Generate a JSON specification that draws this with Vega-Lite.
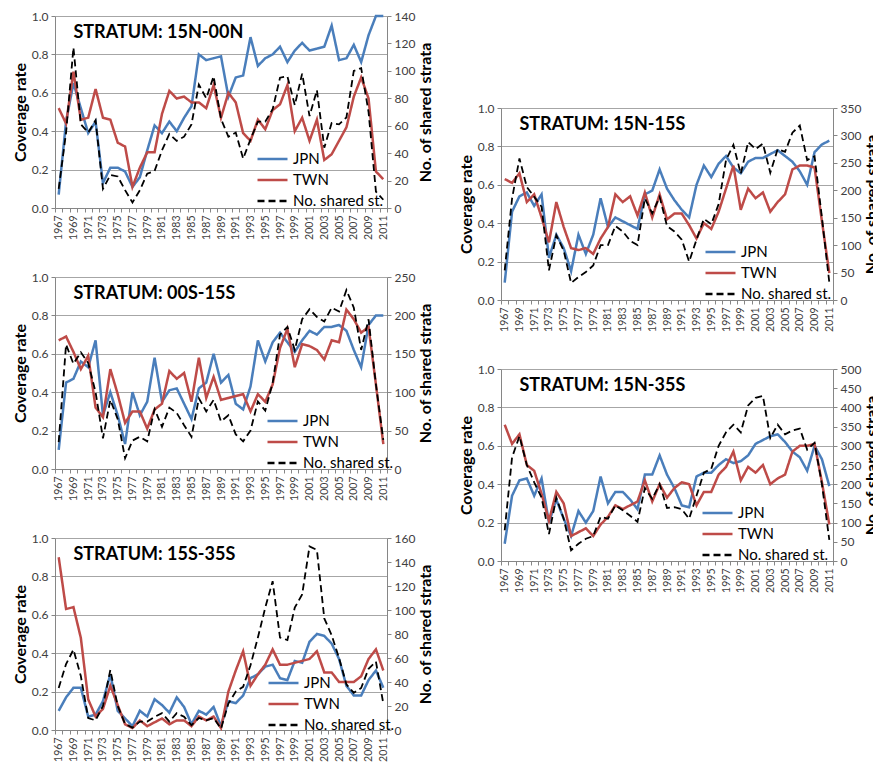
{
  "$schema": "https://vega.github.io/schema/vega-lite/v6.json",
  "background": "white",
  "padding": {"left": 12, "top": 10, "right": 0, "bottom": 0},
  "datasets": {
    "p1": [
      {"yr":1967,"JPN":0.07,"TWN":0.52,"NS":14},{"yr":1968,"JPN":0.45,"TWN":0.44,"NS":55},{"yr":1969,"JPN":0.65,"TWN":0.71,"NS":117},
      {"yr":1970,"JPN":0.52,"TWN":0.46,"NS":61},{"yr":1971,"JPN":0.39,"TWN":0.47,"NS":55},{"yr":1972,"JPN":0.45,"TWN":0.62,"NS":64},
      {"yr":1973,"JPN":0.13,"TWN":0.47,"NS":14},{"yr":1974,"JPN":0.21,"TWN":0.46,"NS":24},{"yr":1975,"JPN":0.21,"TWN":0.34,"NS":23},
      {"yr":1976,"JPN":0.19,"TWN":0.32,"NS":13},{"yr":1977,"JPN":0.11,"TWN":0.11,"NS":4},{"yr":1978,"JPN":0.16,"TWN":0.21,"NS":13},
      {"yr":1979,"JPN":0.30,"TWN":0.29,"NS":25},{"yr":1980,"JPN":0.43,"TWN":0.29,"NS":27},{"yr":1981,"JPN":0.39,"TWN":0.49,"NS":42},
      {"yr":1982,"JPN":0.45,"TWN":0.61,"NS":54},{"yr":1983,"JPN":0.40,"TWN":0.57,"NS":49},{"yr":1984,"JPN":0.47,"TWN":0.58,"NS":52},
      {"yr":1985,"JPN":0.53,"TWN":0.55,"NS":61},{"yr":1986,"JPN":0.80,"TWN":0.55,"NS":90},{"yr":1987,"JPN":0.77,"TWN":0.52,"NS":80},
      {"yr":1988,"JPN":0.78,"TWN":0.64,"NS":96},{"yr":1989,"JPN":0.79,"TWN":0.47,"NS":65},{"yr":1990,"JPN":0.58,"TWN":0.60,"NS":52},
      {"yr":1991,"JPN":0.68,"TWN":0.55,"NS":55},{"yr":1992,"JPN":0.69,"TWN":0.39,"NS":36},{"yr":1993,"JPN":0.89,"TWN":0.35,"NS":50},
      {"yr":1994,"JPN":0.74,"TWN":0.46,"NS":63},{"yr":1995,"JPN":0.78,"TWN":0.41,"NS":63},{"yr":1996,"JPN":0.80,"TWN":0.51,"NS":72},
      {"yr":1997,"JPN":0.84,"TWN":0.54,"NS":95},{"yr":1998,"JPN":0.76,"TWN":0.64,"NS":96},{"yr":1999,"JPN":0.82,"TWN":0.40,"NS":75},
      {"yr":2000,"JPN":0.86,"TWN":0.47,"NS":98},{"yr":2001,"JPN":0.82,"TWN":0.35,"NS":67},{"yr":2002,"JPN":0.83,"TWN":0.46,"NS":86},
      {"yr":2003,"JPN":0.84,"TWN":0.25,"NS":44},{"yr":2004,"JPN":0.95,"TWN":0.28,"NS":62},{"yr":2005,"JPN":0.77,"TWN":0.35,"NS":61},
      {"yr":2006,"JPN":0.78,"TWN":0.42,"NS":66},{"yr":2007,"JPN":0.85,"TWN":0.58,"NS":100},{"yr":2008,"JPN":0.76,"TWN":0.68,"NS":102},
      {"yr":2009,"JPN":0.90,"TWN":0.57,"NS":70},{"yr":2010,"JPN":1.00,"TWN":0.19,"NS":12},{"yr":2011,"JPN":1.00,"TWN":0.15,"NS":6}
    ],
    "p2": [
      {"yr":1967,"JPN":0.10,"TWN":0.67,"NS":35},{"yr":1968,"JPN":0.45,"TWN":0.69,"NS":162},{"yr":1969,"JPN":0.47,"TWN":0.61,"NS":137},
      {"yr":1970,"JPN":0.56,"TWN":0.52,"NS":152},{"yr":1971,"JPN":0.53,"TWN":0.59,"NS":138},{"yr":1972,"JPN":0.67,"TWN":0.32,"NS":100},
      {"yr":1973,"JPN":0.28,"TWN":0.27,"NS":40},{"yr":1974,"JPN":0.40,"TWN":0.52,"NS":90},{"yr":1975,"JPN":0.28,"TWN":0.39,"NS":65},
      {"yr":1976,"JPN":0.13,"TWN":0.24,"NS":14},{"yr":1977,"JPN":0.40,"TWN":0.30,"NS":37},{"yr":1978,"JPN":0.28,"TWN":0.30,"NS":42},
      {"yr":1979,"JPN":0.35,"TWN":0.21,"NS":36},{"yr":1980,"JPN":0.58,"TWN":0.31,"NS":78},{"yr":1981,"JPN":0.35,"TWN":0.34,"NS":55},
      {"yr":1982,"JPN":0.41,"TWN":0.51,"NS":80},{"yr":1983,"JPN":0.42,"TWN":0.47,"NS":73},{"yr":1984,"JPN":0.34,"TWN":0.50,"NS":57},
      {"yr":1985,"JPN":0.26,"TWN":0.35,"NS":42},{"yr":1986,"JPN":0.42,"TWN":0.58,"NS":92},{"yr":1987,"JPN":0.45,"TWN":0.37,"NS":75},
      {"yr":1988,"JPN":0.60,"TWN":0.48,"NS":90},{"yr":1989,"JPN":0.45,"TWN":0.36,"NS":62},{"yr":1990,"JPN":0.49,"TWN":0.37,"NS":70},
      {"yr":1991,"JPN":0.34,"TWN":0.38,"NS":45},{"yr":1992,"JPN":0.31,"TWN":0.39,"NS":36},{"yr":1993,"JPN":0.43,"TWN":0.30,"NS":50},
      {"yr":1994,"JPN":0.67,"TWN":0.39,"NS":88},{"yr":1995,"JPN":0.56,"TWN":0.35,"NS":76},{"yr":1996,"JPN":0.66,"TWN":0.44,"NS":112},
      {"yr":1997,"JPN":0.71,"TWN":0.63,"NS":175},{"yr":1998,"JPN":0.66,"TWN":0.73,"NS":185},{"yr":1999,"JPN":0.61,"TWN":0.53,"NS":155},
      {"yr":2000,"JPN":0.67,"TWN":0.65,"NS":195},{"yr":2001,"JPN":0.72,"TWN":0.64,"NS":208},{"yr":2002,"JPN":0.70,"TWN":0.62,"NS":198},
      {"yr":2003,"JPN":0.74,"TWN":0.57,"NS":192},{"yr":2004,"JPN":0.74,"TWN":0.67,"NS":210},{"yr":2005,"JPN":0.75,"TWN":0.66,"NS":205},
      {"yr":2006,"JPN":0.72,"TWN":0.83,"NS":233},{"yr":2007,"JPN":0.62,"TWN":0.78,"NS":210},{"yr":2008,"JPN":0.53,"TWN":0.71,"NS":155},
      {"yr":2009,"JPN":0.75,"TWN":0.74,"NS":195},{"yr":2010,"JPN":0.80,"TWN":0.44,"NS":110},{"yr":2011,"JPN":0.80,"TWN":0.13,"NS":38}
    ],
    "p3": [
      {"yr":1967,"JPN":0.10,"TWN":0.90,"NS":35},{"yr":1968,"JPN":0.17,"TWN":0.63,"NS":55},{"yr":1969,"JPN":0.22,"TWN":0.64,"NS":67},
      {"yr":1970,"JPN":0.22,"TWN":0.48,"NS":45},{"yr":1971,"JPN":0.07,"TWN":0.16,"NS":10},{"yr":1972,"JPN":0.08,"TWN":0.07,"NS":8},
      {"yr":1973,"JPN":0.15,"TWN":0.11,"NS":20},{"yr":1974,"JPN":0.29,"TWN":0.23,"NS":50},{"yr":1975,"JPN":0.10,"TWN":0.13,"NS":20},
      {"yr":1976,"JPN":0.06,"TWN":0.03,"NS":5},{"yr":1977,"JPN":0.02,"TWN":0.01,"NS":2},{"yr":1978,"JPN":0.10,"TWN":0.05,"NS":7},
      {"yr":1979,"JPN":0.07,"TWN":0.02,"NS":7},{"yr":1980,"JPN":0.16,"TWN":0.04,"NS":11},{"yr":1981,"JPN":0.13,"TWN":0.06,"NS":14},
      {"yr":1982,"JPN":0.09,"TWN":0.03,"NS":7},{"yr":1983,"JPN":0.17,"TWN":0.05,"NS":14},{"yr":1984,"JPN":0.12,"TWN":0.05,"NS":11},
      {"yr":1985,"JPN":0.03,"TWN":0.02,"NS":4},{"yr":1986,"JPN":0.10,"TWN":0.07,"NS":10},{"yr":1987,"JPN":0.08,"TWN":0.05,"NS":8},
      {"yr":1988,"JPN":0.12,"TWN":0.07,"NS":10},{"yr":1989,"JPN":0.02,"TWN":0.01,"NS":1},{"yr":1990,"JPN":0.15,"TWN":0.20,"NS":22},
      {"yr":1991,"JPN":0.14,"TWN":0.31,"NS":32},{"yr":1992,"JPN":0.18,"TWN":0.41,"NS":36},{"yr":1993,"JPN":0.27,"TWN":0.23,"NS":54},
      {"yr":1994,"JPN":0.29,"TWN":0.29,"NS":77},{"yr":1995,"JPN":0.33,"TWN":0.34,"NS":102},{"yr":1996,"JPN":0.34,"TWN":0.42,"NS":124},
      {"yr":1997,"JPN":0.27,"TWN":0.34,"NS":77},{"yr":1998,"JPN":0.26,"TWN":0.34,"NS":75},{"yr":1999,"JPN":0.36,"TWN":0.35,"NS":102},
      {"yr":2000,"JPN":0.35,"TWN":0.36,"NS":113},{"yr":2001,"JPN":0.46,"TWN":0.37,"NS":153},{"yr":2002,"JPN":0.50,"TWN":0.41,"NS":150},
      {"yr":2003,"JPN":0.49,"TWN":0.30,"NS":93},{"yr":2004,"JPN":0.45,"TWN":0.30,"NS":79},{"yr":2005,"JPN":0.37,"TWN":0.25,"NS":60},
      {"yr":2006,"JPN":0.23,"TWN":0.25,"NS":38},{"yr":2007,"JPN":0.18,"TWN":0.25,"NS":31},{"yr":2008,"JPN":0.18,"TWN":0.28,"NS":35},
      {"yr":2009,"JPN":0.26,"TWN":0.37,"NS":51},{"yr":2010,"JPN":0.31,"TWN":0.42,"NS":57},{"yr":2011,"JPN":0.22,"TWN":0.31,"NS":22}
    ],
    "p4": [
      {"yr":1967,"JPN":0.09,"TWN":0.63,"NS":54},{"yr":1968,"JPN":0.46,"TWN":0.61,"NS":185},{"yr":1969,"JPN":0.54,"TWN":0.66,"NS":258},
      {"yr":1970,"JPN":0.56,"TWN":0.51,"NS":206},{"yr":1971,"JPN":0.49,"TWN":0.55,"NS":188},{"yr":1972,"JPN":0.55,"TWN":0.43,"NS":170},
      {"yr":1973,"JPN":0.22,"TWN":0.30,"NS":54},{"yr":1974,"JPN":0.34,"TWN":0.51,"NS":118},{"yr":1975,"JPN":0.27,"TWN":0.38,"NS":90},
      {"yr":1976,"JPN":0.15,"TWN":0.27,"NS":31},{"yr":1977,"JPN":0.34,"TWN":0.26,"NS":42},{"yr":1978,"JPN":0.24,"TWN":0.27,"NS":51},
      {"yr":1979,"JPN":0.34,"TWN":0.24,"NS":63},{"yr":1980,"JPN":0.53,"TWN":0.32,"NS":100},{"yr":1981,"JPN":0.38,"TWN":0.38,"NS":100},
      {"yr":1982,"JPN":0.43,"TWN":0.55,"NS":135},{"yr":1983,"JPN":0.41,"TWN":0.51,"NS":125},{"yr":1984,"JPN":0.39,"TWN":0.54,"NS":108},
      {"yr":1985,"JPN":0.37,"TWN":0.44,"NS":100},{"yr":1986,"JPN":0.55,"TWN":0.56,"NS":185},{"yr":1987,"JPN":0.57,"TWN":0.43,"NS":158},
      {"yr":1988,"JPN":0.68,"TWN":0.55,"NS":188},{"yr":1989,"JPN":0.58,"TWN":0.42,"NS":135},{"yr":1990,"JPN":0.52,"TWN":0.45,"NS":125},
      {"yr":1991,"JPN":0.47,"TWN":0.45,"NS":110},{"yr":1992,"JPN":0.43,"TWN":0.39,"NS":70},{"yr":1993,"JPN":0.60,"TWN":0.32,"NS":110},
      {"yr":1994,"JPN":0.70,"TWN":0.40,"NS":148},{"yr":1995,"JPN":0.64,"TWN":0.37,"NS":138},{"yr":1996,"JPN":0.71,"TWN":0.46,"NS":175},
      {"yr":1997,"JPN":0.75,"TWN":0.58,"NS":255},{"yr":1998,"JPN":0.69,"TWN":0.70,"NS":283},{"yr":1999,"JPN":0.66,"TWN":0.47,"NS":230},
      {"yr":2000,"JPN":0.72,"TWN":0.58,"NS":288},{"yr":2001,"JPN":0.74,"TWN":0.53,"NS":275},{"yr":2002,"JPN":0.74,"TWN":0.56,"NS":285},
      {"yr":2003,"JPN":0.76,"TWN":0.46,"NS":232},{"yr":2004,"JPN":0.78,"TWN":0.51,"NS":275},{"yr":2005,"JPN":0.75,"TWN":0.55,"NS":270},
      {"yr":2006,"JPN":0.72,"TWN":0.68,"NS":305},{"yr":2007,"JPN":0.67,"TWN":0.70,"NS":318},{"yr":2008,"JPN":0.60,"TWN":0.70,"NS":255},
      {"yr":2009,"JPN":0.77,"TWN":0.69,"NS":262},{"yr":2010,"JPN":0.81,"TWN":0.41,"NS":150},{"yr":2011,"JPN":0.83,"TWN":0.14,"NS":32}
    ],
    "p5": [
      {"yr":1967,"JPN":0.09,"TWN":0.71,"NS":80},{"yr":1968,"JPN":0.34,"TWN":0.61,"NS":270},{"yr":1969,"JPN":0.42,"TWN":0.66,"NS":325},
      {"yr":1970,"JPN":0.43,"TWN":0.50,"NS":250},{"yr":1971,"JPN":0.34,"TWN":0.47,"NS":205},{"yr":1972,"JPN":0.43,"TWN":0.35,"NS":165},
      {"yr":1973,"JPN":0.20,"TWN":0.21,"NS":70},{"yr":1974,"JPN":0.32,"TWN":0.36,"NS":165},{"yr":1975,"JPN":0.22,"TWN":0.30,"NS":110},
      {"yr":1976,"JPN":0.13,"TWN":0.13,"NS":28},{"yr":1977,"JPN":0.26,"TWN":0.15,"NS":45},{"yr":1978,"JPN":0.20,"TWN":0.17,"NS":58},
      {"yr":1979,"JPN":0.26,"TWN":0.13,"NS":65},{"yr":1980,"JPN":0.44,"TWN":0.19,"NS":115},{"yr":1981,"JPN":0.30,"TWN":0.23,"NS":110},
      {"yr":1982,"JPN":0.36,"TWN":0.29,"NS":145},{"yr":1983,"JPN":0.36,"TWN":0.27,"NS":132},{"yr":1984,"JPN":0.32,"TWN":0.29,"NS":118},
      {"yr":1985,"JPN":0.27,"TWN":0.31,"NS":102},{"yr":1986,"JPN":0.45,"TWN":0.42,"NS":190},{"yr":1987,"JPN":0.45,"TWN":0.31,"NS":162},
      {"yr":1988,"JPN":0.55,"TWN":0.40,"NS":200},{"yr":1989,"JPN":0.45,"TWN":0.33,"NS":138},{"yr":1990,"JPN":0.38,"TWN":0.38,"NS":140},
      {"yr":1991,"JPN":0.29,"TWN":0.41,"NS":135},{"yr":1992,"JPN":0.28,"TWN":0.40,"NS":110},{"yr":1993,"JPN":0.44,"TWN":0.29,"NS":170},
      {"yr":1994,"JPN":0.46,"TWN":0.36,"NS":230},{"yr":1995,"JPN":0.46,"TWN":0.36,"NS":240},{"yr":1996,"JPN":0.50,"TWN":0.45,"NS":300},
      {"yr":1997,"JPN":0.53,"TWN":0.49,"NS":335},{"yr":1998,"JPN":0.51,"TWN":0.57,"NS":355},{"yr":1999,"JPN":0.52,"TWN":0.42,"NS":335},
      {"yr":2000,"JPN":0.55,"TWN":0.49,"NS":405},{"yr":2001,"JPN":0.61,"TWN":0.46,"NS":425},{"yr":2002,"JPN":0.63,"TWN":0.50,"NS":430},
      {"yr":2003,"JPN":0.65,"TWN":0.40,"NS":320},{"yr":2004,"JPN":0.66,"TWN":0.43,"NS":355},{"yr":2005,"JPN":0.62,"TWN":0.45,"NS":330},
      {"yr":2006,"JPN":0.57,"TWN":0.57,"NS":340},{"yr":2007,"JPN":0.54,"TWN":0.60,"NS":345},{"yr":2008,"JPN":0.47,"TWN":0.60,"NS":290},
      {"yr":2009,"JPN":0.60,"TWN":0.61,"NS":308},{"yr":2010,"JPN":0.53,"TWN":0.41,"NS":200},{"yr":2011,"JPN":0.39,"TWN":0.19,"NS":55}
    ]
  },
  "hconcat": [
    {
      "vconcat": [
        {
          "width": 332, "height": 192,
          "data": {"name": "p1"},
          "layer": [
            {
              "transform": [{"fold": ["JPN", "TWN"], "as": ["s", "v"]}],
              "mark": {"type": "line", "strokeWidth": 2.5},
              "encoding": {
                "x": {"field": "yr", "type": "ordinal", "scale": {"type": "band", "paddingInner": 0, "paddingOuter": 0},
                      "axis": {"title": null, "labelAngle": 270, "labelExpr": "datum.value % 2 == 1 ? datum.label : ''", "labelOverlap": false, "tickBand": "extent", "grid": false, "labelFontSize": 10.5}},
                "y": {"field": "v", "type": "quantitative", "scale": {"domain": [0, 1], "nice": false},
                      "axis": {"title": "Coverage rate", "values": [0, 0.2, 0.4, 0.6, 0.8, 1], "format": ".1f", "grid": true}},
                "color": {"field": "s", "type": "nominal", "scale": {"domain": ["JPN", "TWN", "NS"], "range": ["#4a7ebb", "#be4b48", "#000000"]},
                          "legend": {"title": null, "orient": "none", "legendX": 201, "legendY": 133, "labelExpr": "datum.value == 'NS' ? 'No. shared st.' : datum.label"}},
                "strokeDash": {"field": "s", "type": "nominal", "scale": {"domain": ["JPN", "TWN", "NS"], "range": [[1, 0], [1, 0], [7, 4]]},
                               "legend": {"title": null, "orient": "none", "legendX": 201, "legendY": 133, "labelExpr": "datum.value == 'NS' ? 'No. shared st.' : datum.label"}}
              }
            },
            {
              "transform": [{"fold": ["NS"], "as": ["s", "v"]}],
              "mark": {"type": "line", "strokeWidth": 1.8},
              "encoding": {
                "x": {"field": "yr", "type": "ordinal"},
                "y": {"field": "v", "type": "quantitative", "scale": {"domain": [0, 140], "nice": false},
                      "axis": {"title": "No. of shared strata", "orient": "right", "values": [0, 20, 40, 60, 80, 100, 120, 140], "grid": false, "titleAngle": 270, "titleBaseline": "top"}},
                "color": {"field": "s", "type": "nominal"},
                "strokeDash": {"field": "s", "type": "nominal"}
              }
            },
            {
              "data": {"values": [{}]},
              "mark": {"type": "text", "align": "left", "baseline": "middle", "fontSize": 18, "fontWeight": "bold", "font": "Lato", "color": "#000000"},
              "encoding": {
                "x": {"datum": 1969, "type": "ordinal"},
                "y": {"datum": 0.91, "type": "quantitative", "scale": {"domain": [0, 1], "nice": false}, "axis": null},
                "text": {"value": "STRATUM: 15N-00N"}
              }
            }
          ],
          "resolve": {"scale": {"y": "independent"}}
        },
        {
          "width": 332, "height": 192,
          "data": {"name": "p2"},
          "layer": [
            {
              "transform": [{"fold": ["JPN", "TWN"], "as": ["s", "v"]}],
              "mark": {"type": "line", "strokeWidth": 2.5},
              "encoding": {
                "x": {"field": "yr", "type": "ordinal", "scale": {"type": "band", "paddingInner": 0, "paddingOuter": 0},
                      "axis": {"title": null, "labelAngle": 270, "labelExpr": "datum.value % 2 == 1 ? datum.label : ''", "labelOverlap": false, "tickBand": "extent", "grid": false, "labelFontSize": 10.5}},
                "y": {"field": "v", "type": "quantitative", "scale": {"domain": [0, 1], "nice": false},
                      "axis": {"title": "Coverage rate", "values": [0, 0.2, 0.4, 0.6, 0.8, 1], "format": ".1f", "grid": true}},
                "color": {"field": "s", "type": "nominal", "scale": {"domain": ["JPN", "TWN", "NS"], "range": ["#4a7ebb", "#be4b48", "#000000"]},
                          "legend": {"title": null, "orient": "none", "legendX": 211, "legendY": 134, "labelExpr": "datum.value == 'NS' ? 'No. shared st.' : datum.label"}},
                "strokeDash": {"field": "s", "type": "nominal", "scale": {"domain": ["JPN", "TWN", "NS"], "range": [[1, 0], [1, 0], [7, 4]]},
                               "legend": {"title": null, "orient": "none", "legendX": 211, "legendY": 134, "labelExpr": "datum.value == 'NS' ? 'No. shared st.' : datum.label"}}
              }
            },
            {
              "transform": [{"fold": ["NS"], "as": ["s", "v"]}],
              "mark": {"type": "line", "strokeWidth": 1.8},
              "encoding": {
                "x": {"field": "yr", "type": "ordinal"},
                "y": {"field": "v", "type": "quantitative", "scale": {"domain": [0, 250], "nice": false},
                      "axis": {"title": "No. of shared strata", "orient": "right", "values": [0, 50, 100, 150, 200, 250], "grid": false, "titleAngle": 270, "titleBaseline": "top"}},
                "color": {"field": "s", "type": "nominal"},
                "strokeDash": {"field": "s", "type": "nominal"}
              }
            },
            {
              "data": {"values": [{}]},
              "mark": {"type": "text", "align": "left", "baseline": "middle", "fontSize": 18, "fontWeight": "bold", "font": "Lato", "color": "#000000"},
              "encoding": {
                "x": {"datum": 1969, "type": "ordinal"},
                "y": {"datum": 0.91, "type": "quantitative", "scale": {"domain": [0, 1], "nice": false}, "axis": null},
                "text": {"value": "STRATUM: 00S-15S"}
              }
            }
          ],
          "resolve": {"scale": {"y": "independent"}}
        },
        {
          "width": 332, "height": 192,
          "data": {"name": "p3"},
          "layer": [
            {
              "transform": [{"fold": ["JPN", "TWN"], "as": ["s", "v"]}],
              "mark": {"type": "line", "strokeWidth": 2.5},
              "encoding": {
                "x": {"field": "yr", "type": "ordinal", "scale": {"type": "band", "paddingInner": 0, "paddingOuter": 0},
                      "axis": {"title": null, "labelAngle": 270, "labelExpr": "datum.value % 2 == 1 ? datum.label : ''", "labelOverlap": false, "tickBand": "extent", "grid": false, "labelFontSize": 10.5}},
                "y": {"field": "v", "type": "quantitative", "scale": {"domain": [0, 1], "nice": false},
                      "axis": {"title": "Coverage rate", "values": [0, 0.2, 0.4, 0.6, 0.8, 1], "format": ".1f", "grid": true}},
                "color": {"field": "s", "type": "nominal", "scale": {"domain": ["JPN", "TWN", "NS"], "range": ["#4a7ebb", "#be4b48", "#000000"]},
                          "legend": {"title": null, "orient": "none", "legendX": 212, "legendY": 135, "labelExpr": "datum.value == 'NS' ? 'No. shared st.' : datum.label"}},
                "strokeDash": {"field": "s", "type": "nominal", "scale": {"domain": ["JPN", "TWN", "NS"], "range": [[1, 0], [1, 0], [7, 4]]},
                               "legend": {"title": null, "orient": "none", "legendX": 212, "legendY": 135, "labelExpr": "datum.value == 'NS' ? 'No. shared st.' : datum.label"}}
              }
            },
            {
              "transform": [{"fold": ["NS"], "as": ["s", "v"]}],
              "mark": {"type": "line", "strokeWidth": 1.8},
              "encoding": {
                "x": {"field": "yr", "type": "ordinal"},
                "y": {"field": "v", "type": "quantitative", "scale": {"domain": [0, 160], "nice": false},
                      "axis": {"title": "No. of shared strata", "orient": "right", "values": [0, 20, 40, 60, 80, 100, 120, 140, 160], "grid": false, "titleAngle": 270, "titleBaseline": "top"}},
                "color": {"field": "s", "type": "nominal"},
                "strokeDash": {"field": "s", "type": "nominal"}
              }
            },
            {
              "data": {"values": [{}]},
              "mark": {"type": "text", "align": "left", "baseline": "middle", "fontSize": 18, "fontWeight": "bold", "font": "Lato", "color": "#000000"},
              "encoding": {
                "x": {"datum": 1969, "type": "ordinal"},
                "y": {"datum": 0.91, "type": "quantitative", "scale": {"domain": [0, 1], "nice": false}, "axis": null},
                "text": {"value": "STRATUM: 15S-35S"}
              }
            }
          ],
          "resolve": {"scale": {"y": "independent"}}
        }
      ],
      "resolve": {"scale": {"color": "independent", "strokeDash": "independent"}, "legend": {"color": "independent", "strokeDash": "independent"}}
    },
    {
      "vconcat": [
        {
          "width": 332, "height": 55,
          "data": {"values": []},
          "mark": "text"
        },
        {
          "width": 332, "height": 192,
          "data": {"name": "p4"},
          "layer": [
            {
              "transform": [{"fold": ["JPN", "TWN"], "as": ["s", "v"]}],
              "mark": {"type": "line", "strokeWidth": 2.5},
              "encoding": {
                "x": {"field": "yr", "type": "ordinal", "scale": {"type": "band", "paddingInner": 0, "paddingOuter": 0},
                      "axis": {"title": null, "labelAngle": 270, "labelExpr": "datum.value % 2 == 1 ? datum.label : ''", "labelOverlap": false, "tickBand": "extent", "grid": false, "labelFontSize": 10.5}},
                "y": {"field": "v", "type": "quantitative", "scale": {"domain": [0, 1], "nice": false},
                      "axis": {"title": "Coverage rate", "values": [0, 0.2, 0.4, 0.6, 0.8, 1], "format": ".1f", "grid": true}},
                "color": {"field": "s", "type": "nominal", "scale": {"domain": ["JPN", "TWN", "NS"], "range": ["#4a7ebb", "#be4b48", "#000000"]},
                          "legend": {"title": null, "orient": "none", "legendX": 203, "legendY": 134, "labelExpr": "datum.value == 'NS' ? 'No. shared st.' : datum.label"}},
                "strokeDash": {"field": "s", "type": "nominal", "scale": {"domain": ["JPN", "TWN", "NS"], "range": [[1, 0], [1, 0], [7, 4]]},
                               "legend": {"title": null, "orient": "none", "legendX": 203, "legendY": 134, "labelExpr": "datum.value == 'NS' ? 'No. shared st.' : datum.label"}}
              }
            },
            {
              "transform": [{"fold": ["NS"], "as": ["s", "v"]}],
              "mark": {"type": "line", "strokeWidth": 1.8},
              "encoding": {
                "x": {"field": "yr", "type": "ordinal"},
                "y": {"field": "v", "type": "quantitative", "scale": {"domain": [0, 350], "nice": false},
                      "axis": {"title": "No. of shared strata", "orient": "right", "values": [0, 50, 100, 150, 200, 250, 300, 350], "grid": false, "titleAngle": 270, "titleBaseline": "top"}},
                "color": {"field": "s", "type": "nominal"},
                "strokeDash": {"field": "s", "type": "nominal"}
              }
            },
            {
              "data": {"values": [{}]},
              "mark": {"type": "text", "align": "left", "baseline": "middle", "fontSize": 18, "fontWeight": "bold", "font": "Lato", "color": "#000000"},
              "encoding": {
                "x": {"datum": 1969, "type": "ordinal"},
                "y": {"datum": 0.91, "type": "quantitative", "scale": {"domain": [0, 1], "nice": false}, "axis": null},
                "text": {"value": "STRATUM: 15N-15S"}
              }
            }
          ],
          "resolve": {"scale": {"y": "independent"}}
        },
        {
          "width": 332, "height": 192,
          "data": {"name": "p5"},
          "layer": [
            {
              "transform": [{"fold": ["JPN", "TWN"], "as": ["s", "v"]}],
              "mark": {"type": "line", "strokeWidth": 2.5},
              "encoding": {
                "x": {"field": "yr", "type": "ordinal", "scale": {"type": "band", "paddingInner": 0, "paddingOuter": 0},
                      "axis": {"title": null, "labelAngle": 270, "labelExpr": "datum.value % 2 == 1 ? datum.label : ''", "labelOverlap": false, "tickBand": "extent", "grid": false, "labelFontSize": 10.5}},
                "y": {"field": "v", "type": "quantitative", "scale": {"domain": [0, 1], "nice": false},
                      "axis": {"title": "Coverage rate", "values": [0, 0.2, 0.4, 0.6, 0.8, 1], "format": ".1f", "grid": true}},
                "color": {"field": "s", "type": "nominal", "scale": {"domain": ["JPN", "TWN", "NS"], "range": ["#4a7ebb", "#be4b48", "#000000"]},
                          "legend": {"title": null, "orient": "none", "legendX": 200, "legendY": 134, "labelExpr": "datum.value == 'NS' ? 'No. shared st.' : datum.label"}},
                "strokeDash": {"field": "s", "type": "nominal", "scale": {"domain": ["JPN", "TWN", "NS"], "range": [[1, 0], [1, 0], [7, 4]]},
                               "legend": {"title": null, "orient": "none", "legendX": 200, "legendY": 134, "labelExpr": "datum.value == 'NS' ? 'No. shared st.' : datum.label"}}
              }
            },
            {
              "transform": [{"fold": ["NS"], "as": ["s", "v"]}],
              "mark": {"type": "line", "strokeWidth": 1.8},
              "encoding": {
                "x": {"field": "yr", "type": "ordinal"},
                "y": {"field": "v", "type": "quantitative", "scale": {"domain": [0, 500], "nice": false},
                      "axis": {"title": "No. of shared strata", "orient": "right", "values": [0, 50, 100, 150, 200, 250, 300, 350, 400, 450, 500], "grid": false, "titleAngle": 270, "titleBaseline": "top"}},
                "color": {"field": "s", "type": "nominal"},
                "strokeDash": {"field": "s", "type": "nominal"}
              }
            },
            {
              "data": {"values": [{}]},
              "mark": {"type": "text", "align": "left", "baseline": "middle", "fontSize": 18, "fontWeight": "bold", "font": "Lato", "color": "#000000"},
              "encoding": {
                "x": {"datum": 1969, "type": "ordinal"},
                "y": {"datum": 0.91, "type": "quantitative", "scale": {"domain": [0, 1], "nice": false}, "axis": null},
                "text": {"value": "STRATUM: 15N-35S"}
              }
            }
          ],
          "resolve": {"scale": {"y": "independent"}}
        }
      ],
      "resolve": {"scale": {"color": "independent", "strokeDash": "independent"}, "legend": {"color": "independent", "strokeDash": "independent"}}
    }
  ],
  "spacing": 24,
  "resolve": {"scale": {"color": "independent", "strokeDash": "independent"}, "legend": {"color": "independent", "strokeDash": "independent"}},
  "config": {
    "font": "Lato",
    "view": {"stroke": null},
    "concat": {"spacing": 31},
    "axis": {
      "labelFont": "Lato", "labelFontSize": 12, "labelColor": "#404040",
      "titleFont": "Lato", "titleFontSize": 16, "titleFontWeight": "bold", "titleColor": "#000000", "titlePadding": 3,
      "domainColor": "#868686", "tickColor": "#868686", "tickSize": 4, "labelPadding": 3,
      "gridColor": "#a6a6a6"
    },
    "legend": {
      "padding": 0,
      "labelFont": "Lato", "labelFontSize": 15, "labelColor": "#000000", "labelLimit": 200, "labelOffset": 4,
      "symbolType": "stroke", "symbolSize": 900, "symbolStrokeWidth": 2.5, "clipHeight": 20, "rowPadding": 1
    }
  }
}
